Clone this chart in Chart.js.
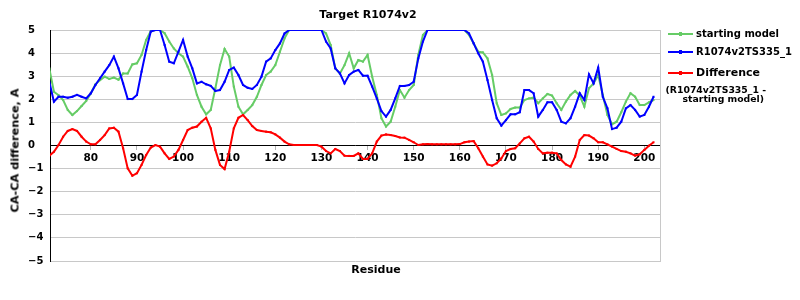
<!DOCTYPE html>
<html>
<head>
<meta charset="utf-8">
<script src="https://cdn.jsdelivr.net/npm/chart.js@4"></script>
<style>
html,body{margin:0;padding:0;background:#fff;}
#wrap{position:relative;width:800px;height:300px;font-family:"DejaVu Sans",sans-serif;font-weight:bold;color:#000;overflow:hidden;}
#wrap canvas{position:absolute;left:0;top:0;}
.t{position:absolute;white-space:nowrap;}
.ln{position:absolute;height:2px;width:25px;left:668px;}
.mk{position:absolute;width:3px;height:4px;left:11px;top:-1px;}
</style>
</head>
<body>
<div id="wrap">
<canvas id="c" width="800" height="300"></canvas>
<div class="t" style="left:0;width:736px;text-align:center;top:7px;font-size:11px;line-height:16px;">Target R1074v2</div>
<div class="t" style="left:-85px;top:143px;width:200px;height:15px;line-height:15px;text-align:center;font-size:11.3px;transform:rotate(-90deg);">CA-CA difference, A</div>
<div class="t" style="left:326px;width:100px;text-align:center;top:262px;font-size:11px;line-height:16px;">Residue</div>

<div class="ln" style="top:33px;background:#66cc66;"><div class="mk" style="background:#66cc66;"></div></div>
<div class="t" style="left:696px;top:27px;font-size:10px;line-height:14px;">starting model</div>
<div class="ln" style="top:51px;background:#0000ff;"><div class="mk" style="background:#0000ff;"></div></div>
<div class="t" style="left:696px;top:45px;font-size:10px;line-height:14px;">R1074v2TS335_1</div>
<div class="ln" style="top:72px;background:#ff0000;"><div class="mk" style="background:#ff0000;"></div></div>
<div class="t" style="left:696px;top:65px;font-size:11px;line-height:15px;">Difference</div>
<div class="t" style="left:600px;width:166px;text-align:right;top:85px;font-size:9.3px;line-height:10px;">(R1074v2TS335_1 -</div>
<div class="t" style="left:600px;width:164px;text-align:right;top:94px;font-size:9.3px;line-height:10px;">starting model)</div>
</div>
<script>
const residues = [71,72,73,74,75,76,77,78,79,80,
 81,82,83,84,85,86,87,88,89,90,
 91,92,93,94,95,96,97,98,99,100,
 101,102,103,104,105,106,107,108,109,110,
 111,112,113,114,115,116,117,118,119,120,
 121,122,123,124,125,126,127,128,129,130,
 131,132,133,134,135,136,137,138,139,140,
 141,142,143,144,145,146,147,148,149,150,
 151,152,153,154,155,156,157,158,159,160,
 161,162,163,164,165,166,167,168,169,170,
 171,172,173,174,175,176,177,178,179,180,
 181,182,183,184,185,186,187,188,189,190,
 191,192,193,194,195,196,197,198,199,200,
 201,202];

const startingModel = [3.34,2.33,2.18,1.97,1.54,1.32,1.49,1.71,1.93,2.26,
 2.65,2.83,2.98,2.88,2.94,2.85,3.12,3.12,3.51,3.56,
 3.92,4.57,4.95,5,5,4.86,4.5,4.2,3.99,3.85,
 3.41,2.91,2.19,1.68,1.35,1.54,2.48,3.48,4.18,3.85,
 2.55,1.68,1.35,1.54,1.75,2.11,2.62,3.05,3.2,3.48,
 4.06,4.64,5,5,5,5,5,5,5,5,
 4.85,4.35,3.34,3.12,3.48,3.99,3.34,3.7,3.63,3.92,
 2.98,2.19,1.18,0.82,1.03,1.68,2.4,2.07,2.4,2.62,
 3.92,4.78,5,5,5,5,5,5,5,5,
 5,4.78,4.42,4.06,4.03,3.77,3.05,1.83,1.32,1.39,
 1.58,1.64,1.64,1.97,2.04,2.07,1.83,2.04,2.23,2.16,
 1.83,1.54,1.9,2.19,2.36,2.16,1.68,2.48,2.69,3.05,
 2.19,1.32,0.92,1.03,1.44,1.9,2.26,2.11,1.75,1.75,
 1.87,1.97];

const modelTS335 = [2.76,1.9,2.11,2.11,2.07,2.11,2.19,2.11,2.04,2.26,
 2.62,2.91,3.2,3.48,3.85,3.34,2.69,2.01,2.01,2.19,
 3.2,4.13,4.93,5,5,4.35,3.63,3.56,4.06,4.57,
 3.85,3.34,2.69,2.76,2.65,2.58,2.36,2.4,2.76,3.27,
 3.37,3.05,2.62,2.5,2.45,2.62,2.98,3.63,3.77,4.13,
 4.42,4.85,5,5,5,5,5,5,5,5,
 4.5,4.2,3.34,3.12,2.69,3.05,3.2,3.27,3.02,3.02,
 2.55,2.04,1.49,1.25,1.54,2.04,2.58,2.58,2.62,2.76,
 3.77,4.5,5,5,5,5,5,5,5,5,
 5,4.85,4.42,3.99,3.63,2.83,1.97,1.18,0.86,1.1,
 1.35,1.35,1.44,2.4,2.4,2.26,1.25,1.54,1.87,1.87,
 1.54,1.03,0.96,1.18,1.68,2.26,1.97,3.08,2.69,3.37,
 2.11,1.61,0.71,0.77,1.03,1.61,1.75,1.54,1.25,1.32,
 1.68,2.11];

const difference = [-0.44,-0.27,0.02,0.38,0.63,0.71,0.63,0.38,0.17,0.05,
 0.05,0.24,0.45,0.74,0.77,0.6,-0.12,-0.99,-1.31,-1.2,
 -0.84,-0.41,-0.09,0.02,-0.05,-0.34,-0.58,-0.48,-0.19,0.24,
 0.67,0.77,0.82,1.03,1.2,0.74,-0.19,-0.84,-1.02,-0.27,
 0.74,1.2,1.32,1.1,0.84,0.67,0.63,0.6,0.57,0.48,
 0.34,0.17,0.05,0.02,0.02,0.02,0.02,0.02,0.02,-0.05,
 -0.24,-0.34,-0.15,-0.24,-0.44,-0.45,-0.45,-0.34,-0.58,-0.58,
 -0.34,0.17,0.43,0.48,0.45,0.41,0.35,0.34,0.24,0.14,
 0.02,0.05,0.06,0.05,0.05,0.05,0.05,0.05,0.05,0.06,
 0.14,0.17,0.19,-0.12,-0.48,-0.82,-0.87,-0.77,-0.56,-0.24,
 -0.15,-0.12,0.09,0.31,0.38,0.17,-0.15,-0.34,-0.31,-0.31,
 -0.34,-0.63,-0.82,-0.92,-0.48,0.24,0.45,0.43,0.31,0.14,
 0.14,0.05,-0.05,-0.15,-0.24,-0.27,-0.34,-0.44,-0.38,-0.19,
 -0.01,0.14];

const seriesNames = ['starting model', 'R1074v2TS335_1', 'Difference (R1074v2TS335_1 - starting model)'];
const xTicks = [80,90,100,110,120,130,140,150,160,170,180,190,200];
const yTicks = [-5,-4,-3,-2,-1,0,1,2,3,4,5];

const GREEN = '#66cc66', BLUE = '#0000ff', RED = '#ff0000', GRID = '#c8c8c8';
const pts = arr => residues.map((r, i) => ({x: r, y: arr[i]}));

const frame = {
  id: 'frame',
  beforeDatasetsDraw(c) {
    const {ctx, chartArea: a} = c;
    ctx.save();
    ctx.strokeStyle = GRID; ctx.lineWidth = 1;
    ctx.beginPath();
    const xr = Math.round(a.right) + 0.5;
    ctx.moveTo(xr, a.top); ctx.lineTo(xr, a.bottom + 1);
    ctx.stroke();
    ctx.restore();
  }
};

const ds = (label, arr, color, order) => ({
  label, data: pts(arr), borderColor: color, backgroundColor: color,
  pointBackgroundColor: color, pointBorderColor: color, order
});

new Chart(document.getElementById('c'), {
  type: 'line',
  data: {
    datasets: [
      ds(seriesNames[0], startingModel, GREEN, 3),
      ds(seriesNames[1], modelTS335, BLUE, 2),
      ds(seriesNames[2], difference, RED, 1)
    ]
  },
  options: {
    responsive: false,
    animation: false,
    devicePixelRatio: 1,
    layout: {padding: {left: 28, top: 30, right: 140, bottom: 39}},
    plugins: {legend: {display: false}, title: {display: false}, tooltip: {enabled: false}},
    elements: {
      line: {borderWidth: 2, tension: 0},
      point: {radius: 1.4, pointStyle: 'rect', borderWidth: 0, hoverRadius: 1.4}
    },
    scales: {
      x: {
        type: 'linear', position: {y: 0}, min: 71.15, max: 203.4,
        afterBuildTicks: s => { s.ticks = xTicks.map(v => ({value: v})); },
        grid: {display: true, drawOnChartArea: false, drawTicks: true, tickLength: 4, color: '#b4b4b4'},
        border: {display: true, color: '#000', width: 1},
        ticks: {font: {family: 'DejaVu Sans', size: 10.5, weight: 'bold'}, color: '#000', padding: 2, maxRotation: 0, autoSkip: false}
      },
      y: {
        type: 'linear', min: -5, max: 5,
        afterFit: s => { s.width = 22; },
        afterBuildTicks: s => { s.ticks = yTicks.map(v => ({value: v})); },
        grid: {color: GRID, drawTicks: false},
        border: {display: true, color: '#000', width: 1},
        ticks: {
          crossAlign: 'far', padding: 0,
          font: {family: 'DejaVu Sans', size: 10, weight: 'bold'}, color: '#000',
          callback: v => v < 0 ? '\u2212' + Math.abs(v) : String(v)
        }
      }
    }
  },
  plugins: [frame]
});
</script>
</body>
</html>
